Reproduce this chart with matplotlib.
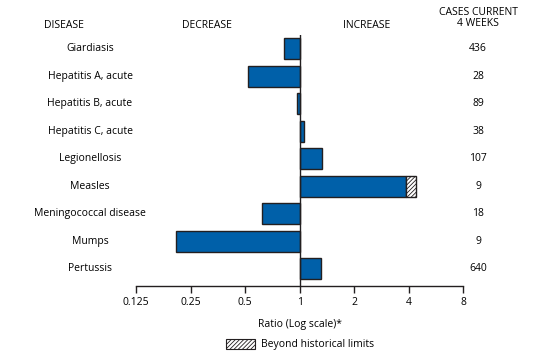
import matplotlib.pyplot as plt
import matplotlib.patches as mpatches
import numpy as np

plt.rcParams['font.family'] = ['Open Sans', 'DejaVu Sans']
plt.rcParams['hatch.color'] = '#999999'
plt.rcParams['hatch.linewidth'] = 0.6

diseases = ['Giardiasis', 'Hepatitis A, acute', 'Hepatitis B, acute', 'Hepatitis C, acute',
            'Legionellosis', 'Measles', 'Meningococcal disease', 'Mumps', 'Pertussis']
ratios = [0.82, 0.52, 0.96, 1.05, 1.33, 3.86, 0.62, 0.206, 1.31]
beyond = [None, None, None, None, None, 4.38, None, None, None]
cases = ['436', '28', '89', '38', '107', '9', '18', '9', '640']
ticks = [0.125, 0.25, 0.5, 1, 2, 4, 8]
tick_labels = ['0.125', '0.25', '0.5', '1', '2', '4', '8']

blue = '#0060a9'
edge = '#231f20'

fig = plt.figure(figsize=(5.43, 3.53), dpi=100)
ax = fig.add_axes([0.251, 0.1907, 0.602, 0.710])

# bars start at ratio 1 and go to the value on a log scale
for i, r in enumerate(ratios):
    ax.barh(i, r - 1, left=1, height=0.76, color=blue, edgecolor=edge, linewidth=1.0, zorder=2)
    if beyond[i] is not None:
        ax.barh(i, beyond[i] - r, left=r, height=0.76, color='white', edgecolor=edge,
                hatch='////////', linewidth=1.0, zorder=2)

ax.set_xscale('log', base=2)
ax.set_xlim(0.125, 8)
ax.set_ylim(8.61, -0.5)
ax.axvline(1, color=edge, linewidth=1.0, zorder=3)

for s in ['top', 'right', 'left']:
    ax.spines[s].set_visible(False)
ax.spines['bottom'].set_color(edge)
ax.spines['bottom'].set_linewidth(1.0)
ax.set_yticks([])
ax.set_xticks(ticks)
ax.set_xticklabels(tick_labels, fontsize=7.5)
ax.minorticks_off()
ax.tick_params(axis='x', direction='out', length=5, width=1.0, color=edge, pad=3)
ax.set_xlabel('Ratio (Log scale)*', fontsize=7.5, labelpad=8)

for i, d in enumerate(diseases):
    fig.text(90 / 543, 1 - (48.8 + 27.5 * i) / 353, d, ha='center', va='center', fontsize=7.5)
    fig.text(478 / 543, 1 - (48.8 + 27.5 * i) / 353, cases[i], ha='center', va='center', fontsize=7.5)

fig.text(64 / 543, 1 - 25 / 353, 'DISEASE', ha='center', va='center', fontsize=7.5)
fig.text(207 / 543, 1 - 25 / 353, 'DECREASE', ha='center', va='center', fontsize=7.5)
fig.text(367 / 543, 1 - 25 / 353, 'INCREASE', ha='center', va='center', fontsize=7.5)
fig.text(478 / 543, 1 - 18 / 353, 'CASES CURRENT\n4 WEEKS', ha='center', va='center',
         fontsize=7.5, linespacing=1.1)

# legend box for beyond historical limits
fig.patches.append(mpatches.Rectangle((226 / 543, 1 - 349 / 353), 29 / 543, 10 / 353,
                                      transform=fig.transFigure, facecolor='white',
                                      edgecolor=edge, hatch='////////', linewidth=0.8))
fig.text(261 / 543, 1 - 344 / 353, 'Beyond historical limits', ha='left', va='center', fontsize=7.5)

fig.savefig('out.png', dpi=100)
